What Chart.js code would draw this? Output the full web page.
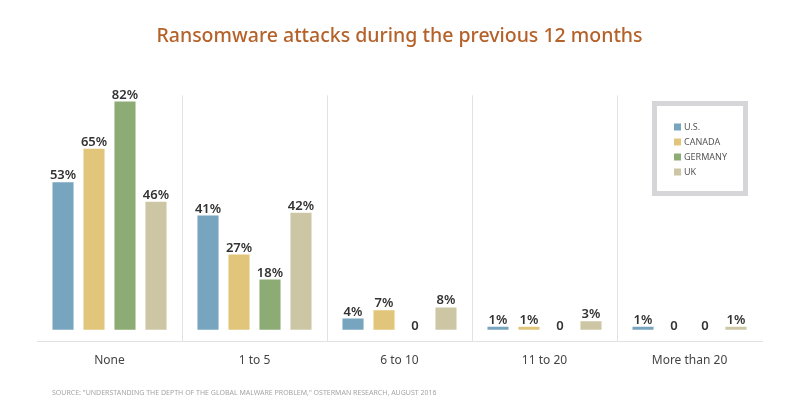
<!DOCTYPE html>
<html lang="en">
<head>
  <meta charset="UTF-8">
  <title>Ransomware attacks during the previous 12 months</title>
  <script src="https://cdn.jsdelivr.net/npm/chart.js"></script>
  <style>
    body {
      margin: 0;
      padding: 0;
      background: #fff;
    }
    .chart-box {
      width: 800px;
      height: 416px;
    }
  </style>
</head>
<body>
  <div class="chart-box"><canvas id="attackChart"></canvas></div>

  <script>
    const categories = ['None', '1 to 5', '6 to 10', '11 to 20', 'More than 20'];
    const countries = ['U.S.', 'CANADA', 'GERMANY', 'UK'];
    const usValues = [53, 41, 4, 1, 1];
    const canadaValues = [65, 27, 7, 1, 0];
    const germanyValues = [82, 18, 0, 0, 0];
    const ukValues = [46, 42, 8, 3, 1];
    const colors = ['#77a5bf', '#e1c57a', '#8dab74', '#cdc6a4'];
    const sourceText = 'SOURCE: "UNDERSTANDING THE DEPTH OF THE GLOBAL MALWARE PROBLEM," OSTERMAN RESEARCH, AUGUST 2016';

    const seriesValues = [usValues, canadaValues, germanyValues, ukValues];

    // value labels above each bar, "0" for empty bars
    const valueLabels = {
      id: 'valueLabels',
      afterDatasetsDraw(chart) {
        const ctx = chart.ctx;
        ctx.save();
        ctx.font = '600 13px "Noto Sans", sans-serif';
        ctx.fillStyle = '#333';
        ctx.textAlign = 'center';
        ctx.textBaseline = 'alphabetic';
        chart.data.datasets.forEach((ds, i) => {
          chart.getDatasetMeta(i).data.forEach((bar, j) => {
            const v = ds.data[j];
            const text = v === 0 ? '0' : v + '%';
            const y = v === 0 ? bar.base : bar.y - 3;
            ctx.fillText(text, bar.x, y);
          });
        });
        ctx.restore();
      }
    };

    // boxed legend and source line
    const extras = {
      id: 'extras',
      afterDraw(chart) {
        const ctx = chart.ctx;
        ctx.save();
        ctx.strokeStyle = '#d6d6d9';
        ctx.lineWidth = 5;
        ctx.strokeRect(654.5, 103.5, 91, 90);
        ctx.font = '9px "Noto Sans", sans-serif';
        ctx.textBaseline = 'middle';
        chart.data.datasets.forEach((ds, i) => {
          const y = 127 + i * 15;
          ctx.fillStyle = ds.backgroundColor;
          ctx.fillRect(674, y - 3.5, 7, 7);
          ctx.fillStyle = '#555';
          ctx.fillText(ds.label, 684, y + 0.5);
        });
        ctx.font = '7px "Noto Sans", sans-serif';
        ctx.fillStyle = '#a5a5a5';
        ctx.textBaseline = 'middle';
        ctx.fillText(sourceText, 52, 393);
        ctx.restore();
      }
    };

    new Chart(document.getElementById('attackChart'), {
      type: 'bar',
      data: {
        labels: categories,
        datasets: countries.map((name, i) => ({
          label: name,
          data: seriesValues[i],
          backgroundColor: colors[i],
          categoryPercentage: 0.855,
          barPercentage: 0.68
        }))
      },
      options: {
        responsive: true,
        maintainAspectRatio: false,
        animation: false,
        layout: {
          padding: { left: 37, right: 38, top: 0, bottom: 36 }
        },
        scales: {
          x: {
            grid: {
              offset: true,
              drawTicks: false,
              color: ctx => (ctx.index > 0 ? '#e2e2e2' : 'rgba(0,0,0,0)')
            },
            border: { display: true, color: '#e2e2e2', width: 1 },
            ticks: {
              padding: 12,
              color: '#444',
              font: { family: '"Noto Sans", sans-serif', size: 12 }
            }
          },
          y: {
            display: false,
            min: -4.3,
            max: 84.2
          }
        },
        plugins: {
          legend: { display: false },
          tooltip: { enabled: false },
          title: {
            display: true,
            text: 'Ransomware attacks during the previous 12 months',
            color: '#b5622a',
            font: { family: '"Noto Sans", sans-serif', size: 19.5, weight: 500 },
            padding: { top: 25, bottom: 47 }
          }
        }
      },
      plugins: [valueLabels, extras]
    });
  </script>
</body>
</html>
